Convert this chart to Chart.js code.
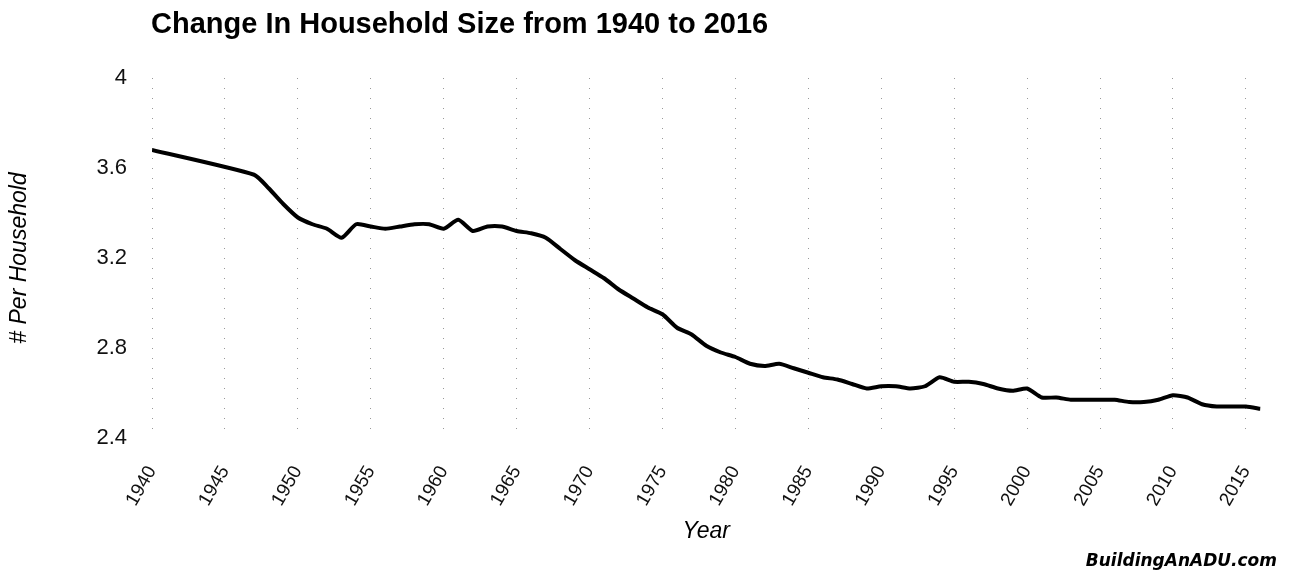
<!DOCTYPE html>
<html>
<head>
<meta charset="utf-8">
<script src="https://cdn.jsdelivr.net/npm/chart.js@4"></script>
<style>
  html, body { margin: 0; padding: 0; background: #fff; }
  #wrap { position: relative; width: 1290px; height: 577px; }
  #title {
    position: absolute; left: 151px; top: 7px;
    font: bold 29px "Liberation Sans", Arial, sans-serif; color: #000;
  }
  #credit {
    position: absolute; right: 13px; top: 550px;
    font: italic bold 17px "DejaVu Sans", sans-serif; color: #000;
  }
</style>
</head>
<body>
<div id="wrap">
  <canvas id="sizeChart" width="1290" height="577"></canvas>
  <div id="title">Change In Household Size from 1940 to 2016</div>
  <div id="credit">BuildingAnADU.com</div>
</div>
<script>
// Years with data (no survey points between 1940 and 1947)
const years = [1940,
  1947, 1948, 1949, 1950, 1951, 1952, 1953, 1954, 1955, 1956, 1957, 1958, 1959,
  1960, 1961, 1962, 1963, 1964, 1965, 1966, 1967, 1968, 1969,
  1970, 1971, 1972, 1973, 1974, 1975, 1976, 1977, 1978, 1979,
  1980, 1981, 1982, 1983, 1984, 1985, 1986, 1987, 1988, 1989,
  1990, 1991, 1992, 1993, 1994, 1995, 1996, 1997, 1998, 1999,
  2000, 2001, 2002, 2003, 2004, 2005, 2006, 2007, 2008, 2009,
  2010, 2011, 2012, 2013, 2014, 2015, 2016];
// Average persons per household
const perHousehold = [3.68,
  3.57, 3.51, 3.44, 3.38, 3.35, 3.33, 3.29, 3.35, 3.34, 3.33, 3.34, 3.35, 3.35,
  3.33, 3.37, 3.32, 3.34, 3.34, 3.32, 3.31, 3.29, 3.24, 3.19,
  3.15, 3.11, 3.06, 3.02, 2.98, 2.95, 2.89, 2.86, 2.81, 2.78,
  2.76, 2.73, 2.72, 2.73, 2.71, 2.69, 2.67, 2.66, 2.64, 2.62,
  2.63, 2.63, 2.62, 2.63, 2.67, 2.65, 2.65, 2.64, 2.62, 2.61,
  2.62, 2.58, 2.58, 2.57, 2.57, 2.57, 2.57, 2.56, 2.56, 2.57,
  2.59, 2.58, 2.55, 2.54, 2.54, 2.54, 2.53];
// x tick labels (every 5 years)
const yearTicks = [1940, 1945, 1950, 1955, 1960, 1965, 1970, 1975,
  1980, 1985, 1990, 1995, 2000, 2005, 2010, 2015];
const yMin = 2.4, yMax = 4, yStep = 0.4;
const xMin = 1940, xMax = 2016;

const points = years.map((yr, i) => ({ x: yr, y: perHousehold[i] }));

const ctx = document.getElementById('sizeChart').getContext('2d');
new Chart(ctx, {
  type: 'line',
  data: {
    datasets: [{
      data: points,
      borderColor: '#000',
      borderWidth: 4,
      pointRadius: 0,
      tension: 0.2,
      fill: false
    }]
  },
  options: {
    responsive: false,
    animation: false,
    layout: { padding: { left: 4, right: 28, top: 78, bottom: 30 } },
    plugins: { legend: { display: false }, tooltip: { enabled: false } },
    scales: {
      x: {
        type: 'linear',
        min: xMin,
        max: xMax,
        afterFit: (scale) => { scale.height = 109; },
        // chart.js swaps 2015 for the 2016 end value, so set the ticks here
        afterBuildTicks: (scale) => {
          scale.ticks = yearTicks.map(v => ({ value: v }));
        },
        border: { display: false, dash: [1, 9] },
        grid: { color: '#999', lineWidth: 1, drawTicks: false },
        ticks: {
          minRotation: 60,
          maxRotation: 60,
          padding: 24,
          color: '#111',
          font: { family: 'Liberation Sans', size: 19 },
          callback: (v) => String(v)
        },
        title: {
          display: true,
          text: 'Year',
          color: '#000',
          padding: { top: 0, bottom: 2 },
          font: { family: 'Liberation Sans', size: 23, style: 'italic' }
        }
      },
      y: {
        min: yMin,
        max: yMax,
        afterFit: (scale) => { scale.width = 148; },
        border: { display: false },
        grid: { display: false },
        ticks: {
          stepSize: yStep,
          padding: 17,
          color: '#111',
          font: { family: 'Liberation Sans', size: 22 },
          callback: (v) => String(+v.toFixed(1))
        },
        title: {
          display: true,
          text: '# Per Household',
          color: '#000',
          padding: 2,
          font: { family: 'Liberation Sans', size: 23, style: 'italic' }
        }
      }
    }
  }
});
</script>
</body>
</html>
